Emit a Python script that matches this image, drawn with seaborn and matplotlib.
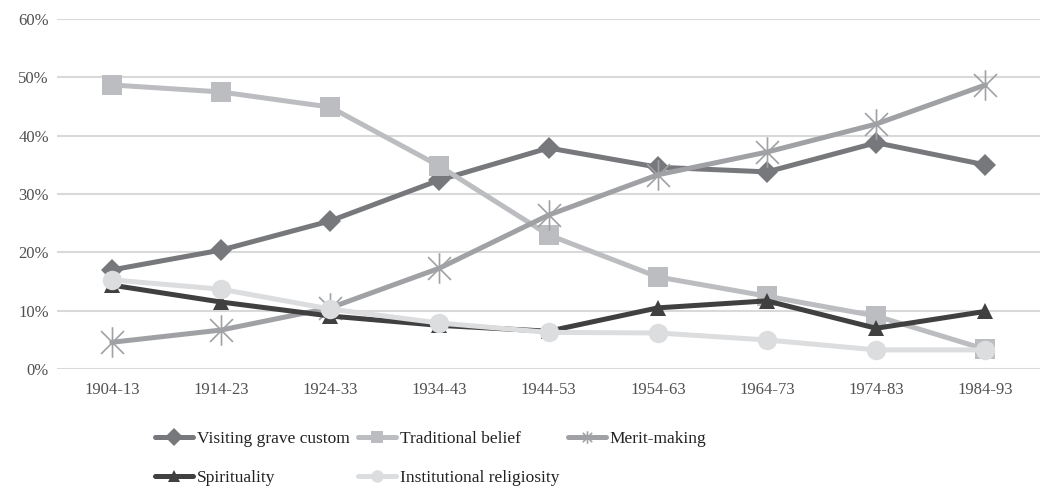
import numpy as np
import pandas as pd
import matplotlib
matplotlib.use("Agg")
import matplotlib.pyplot as plt
from matplotlib.path import Path
import seaborn as sns

# cohorts (birth decades)
cohorts = ["1904-13", "1914-23", "1924-33", "1934-43", "1944-53",
           "1954-63", "1964-73", "1974-83", "1984-93"]

# share of respondents (%)
visiting_grave = [17.0, 20.4, 25.4, 32.4, 37.9, 34.6, 33.8, 38.8, 35.0]
traditional = [48.7, 47.5, 44.9, 34.8, 23.0, 15.8, 12.5, 9.1, 3.4]
merit_making = [4.6, 6.7, 10.5, 17.3, 26.4, 33.3, 37.2, 42.0, 48.7]
spirituality = [14.4, 11.5, 9.1, 7.5, 6.5, 10.5, 11.7, 7.0, 9.9]
institutional = [15.3, 13.7, 10.3, 7.9, 6.3, 6.2, 5.0, 3.3, 3.3]

names = ["Visiting grave custom", "Traditional belief", "Merit-making",
         "Spirituality", "Institutional religiosity"]

sns.set_theme(style="white")
plt.rcParams["font.family"] = ["Liberation Serif", "DejaVu Serif"]

# asterisk: vertical stroke plus an X
star = Path([(0, -1), (0, 1), (-0.75, -0.75), (0.75, 0.75), (-0.75, 0.75), (0.75, -0.75)],
            [Path.MOVETO, Path.LINETO, Path.MOVETO, Path.LINETO, Path.MOVETO, Path.LINETO])

series = [
    (visiting_grave, "#77787b", "D", 11, 0),
    (traditional, "#bcbdc0", "s", 14, 0),
    (merit_making, "#a0a1a4", star, 22, 1.2),
    (spirituality, "#404040", "^", 12, 0),
    (institutional, "#dcdddf", "o", 14, 0),
]

df = pd.DataFrame({"cohort": cohorts})

fig, ax = plt.subplots(figsize=(10.4, 4.87), dpi=100)
handles = []
for name, (vals, col, mk, ms, mew) in zip(names, series):
    df[name] = vals
    sns.lineplot(data=df, x="cohort", y=name, ax=ax, color=col, linewidth=3.6,
                 marker=mk, markersize=ms, markeredgecolor=col,
                 markeredgewidth=mew, label=name, legend=False, sort=False)
    handles.append(ax.lines[-1])

ax.set_ylim(0, 60)
ax.set_xlim(-0.5, 8.5)
ax.set_yticks(np.arange(0, 61, 10))
ax.set_yticklabels([f"{v}%" for v in range(0, 61, 10)])
ax.tick_params(axis="x", labelsize=12, labelcolor="#505050", pad=9, length=0)
ax.tick_params(axis="y", labelsize=12, labelcolor="#505050", pad=6, length=0)
ax.set_xlabel("")
ax.set_ylabel("")
ax.grid(axis="y", color="#d9d9d9", linewidth=1.5)
ax.set_axisbelow(True)
for s in ax.spines.values():
    s.set_visible(False)

order = [0, 3, 1, 4, 2]
leg = fig.legend([handles[i] for i in order], [names[i] for i in order],
                 loc="upper left", bbox_to_anchor=(0.134, 0.148), ncol=3,
                 frameon=False, fontsize=12.5, handlelength=2.2,
                 columnspacing=0.5, handletextpad=0.2, labelspacing=1.35)
for t in leg.get_texts():
    t.set_color("#222222")
for h in leg.legend_handles:
    h.set_markersize(9)

fig.subplots_adjust(left=0.055, right=1.0, top=0.961, bottom=0.242)
fig.savefig("out.png", dpi=100)
